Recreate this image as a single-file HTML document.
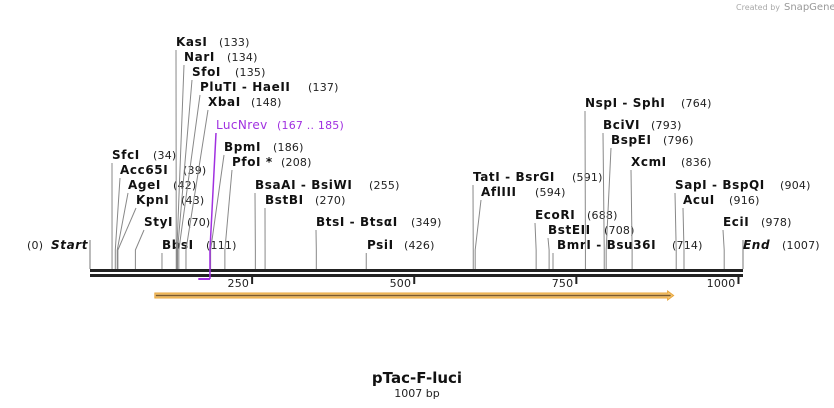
<!DOCTYPE html>
<html><head><meta charset="utf-8">
<style>
body{margin:0;background:#fff;}
svg{display:block;font-family:"DejaVu Sans","Liberation Sans",sans-serif;}
.n{font-weight:bold;font-size:12px;fill:#111;letter-spacing:0.6px;}
.p{font-size:11px;fill:#222;letter-spacing:0.2px;}
</style></head><body>
<svg id="map" width="834" height="408" viewBox="0 0 834 408">
<text x="736" y="10" font-size="8" fill="#aaa">Created by</text>
<text x="784" y="10" font-size="10" fill="#999">SnapGene</text>
<g id="g"></g>
<text x="417" y="383" text-anchor="middle" font-weight="bold" font-size="15" fill="#111">pTac-F-luci</text>
<text x="417" y="397" text-anchor="middle" font-size="11" fill="#222">1007 bp</text>
</svg>
<script>
const seqLength = 1007;
const siteNames = ["SfcI","Acc65I","AgeI","KpnI","StyI","BbsI","KasI","NarI","SfoI","PluTI  - HaeII","XbaI","BpmI","PfoI *","BsaAI  - BsiWI","BstBI","BtsI  - BtsαI","PsiI","TatI  - BsrGI","AflIII","EcoRI","BstEII","BmrI  - Bsu36I","NspI  - SphI","BciVI","BspEI","XcmI","SapI  - BspQI","AcuI","EciI"];
const sitePositions = [34,39,42,43,70,111,133,134,135,137,148,186,208,255,270,349,426,591,594,688,708,714,764,793,796,836,904,916,978];
const tickValues = [250,500,750,1000];
const primerName = "LucNrev";
const primerRange = [167,185];
const featureRange = [100,900];
// label layout (pixels): [labelX, baseline, numberX]
const layout = [[112,159,153],[120,174,183],[128,189,173],[136,204,181],[144,226,187],[162,249,206],[176,46,219],[184,61,227],[192,76,235],[200,91,308],[208,106,251],[224,151,273],[232,166,281],[255,189,369],[265,204,315],[316,226,411],[367,249,404],[473,181,572],[481,196,535],[535,219,587],[548,234,604],[557,249,672],[585,107,681],[603,129,651],[611,144,663],[631,166,681],[675,189,780],[683,204,729],[723,226,761]];
const X0=90, X1=743;
const xs = bp => X0 + bp*(X1-X0)/seqLength;
const g=document.getElementById('g');
const NS='http://www.w3.org/2000/svg';
function mk(t,a){const e=document.createElementNS(NS,t);for(const k in a)e.setAttribute(k,a[k]);g.appendChild(e);return e;}
let e=mk('rect',{x:X0,y:269,width:X1-X0,height:3,fill:'#222'});


e=mk('rect',{x:X0,y:274,width:X1-X0,height:3,fill:'#222'});


e=mk('line',{x1:xs(0),y1:240,x2:xs(0),y2:269,stroke:'#777'});


e=mk('line',{x1:xs(seqLength),y1:240,x2:xs(seqLength),y2:269,stroke:'#777'});


e=mk('text',{x:27,y:249,class:'p'});e.textContent='(0)';


e=mk('text',{x:51,y:249,class:'n','font-style':'italic'});e.textContent='Start';


e=mk('text',{x:743,y:249,class:'n','font-style':'italic'});e.textContent='End';


e=mk('text',{x:782,y:249,class:'p'});e.textContent='('+seqLength+')';


tickValues.forEach(v=>{
  const x=xs(v);
  let t=mk('line',{x1:x,y1:277,x2:x,y2:284,stroke:'#222','stroke-width':2});
  
  
  t=mk('text',{x:x-3,y:287,'text-anchor':'end',class:'p'});t.textContent=v;
  
  
});
siteNames.forEach((n,i)=>{
  const [lx,by,nx]=layout[i];const sx=xs(sitePositions[i]);
  const y0=by+4;
  let pts=y0>=250?`${sx},${y0} ${sx},269`:`${lx},${y0} ${sx},${Math.max(y0,250)} ${sx},269`;
  let l=mk('polyline',{points:pts,fill:'none',stroke:'#888','stroke-width':1});
  
  
  let t=mk('text',{x:lx,y:by,class:'n'});t.textContent=n;
  
  
  t=mk('text',{x:nx,y:by,class:'p'});t.textContent='('+sitePositions[i]+')';
  
  
});
const pa=xs(primerRange[0]), pb=xs(primerRange[1]);
e=mk('polyline',{points:`216,133 ${pb},250 ${pb},279`,fill:'none',stroke:'#a030e0','stroke-width':1.5});


e=mk('line',{x1:pa,y1:279,x2:pb,y2:279,stroke:'#a030e0','stroke-width':2});


e=mk('text',{x:216,y:129,'font-size':12,fill:'#a030e0','letter-spacing':'0.4px'});e.textContent=primerName;


e=mk('text',{x:277,y:129,'font-size':11,fill:'#a030e0','letter-spacing':'0.2px'});e.textContent='('+primerRange[0]+' .. '+primerRange[1]+')';


const fa=xs(featureRange[0]), fb=xs(featureRange[1]);
e=mk('polygon',{points:`${fa},293 ${fb-6},293 ${fb-6},291 ${fb},295.5 ${fb-6},300 ${fb-6},298 ${fa},298`,fill:'#f6c570',stroke:'#e8a63c','stroke-width':1});


e=mk('line',{x1:fa+1,y1:295.5,x2:fb-3,y2:295.5,stroke:'#7a5a30','stroke-width':1.5});


</script>
</body></html>
